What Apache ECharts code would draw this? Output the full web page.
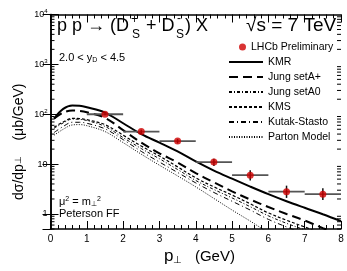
<!DOCTYPE html>
<html><head><meta charset="utf-8">
<script src="https://cdn.jsdelivr.net/npm/echarts@6/dist/echarts.min.js"></script>
<style>html,body{margin:0;padding:0;background:#fff}#c{width:347px;height:271px}</style>
</head><body><div id="c"></div>
<script>
// ---- data ----
const ptGrid = [0.1, 0.35, 0.6, 0.8, 1.0, 1.5, 2.0, 2.5, 3.0, 3.5, 4.0, 4.5, 5.0, 5.5, 6.0, 6.5, 7.0, 7.5, 8.0];
const kmr      = [82, 128, 150, 148, 138, 108, 66, 40, 27, 18, 11.3, 7.4, 5.1, 3.55, 2.5, 1.8, 1.33, 0.99, 0.72];
const jungAp   = [82, 108, 119, 117, 110, 85, 48, 27, 16.5, 10.8, 6.6, 4.3, 2.85, 1.95, 1.38, 1.0, 0.74, 0.52, 0.38];
const jungA0   = [52, 67, 80, 79, 75, 57, 34, 20.5, 12.8, 7.8, 4.7, 3.1, 2.1, 1.4, 0.92, 0.65, 0.48, 0.35, 0.26];
const kms      = [55, 70, 83, 82, 78, 62, 38, 23, 14.5, 8.8, 5.3, 3.5, 2.4, 1.6, 1.05, 0.75, 0.55, 0.4, 0.3];
const kutak    = [43, 57, 69, 69, 66, 51, 31, 18, 11, 6.8, 4.2, 2.7, 1.8, 1.2, 0.78, 0.55, 0.4, 0.29, 0.21];
const parton   = [38, 50, 61, 62, 59, 45, 27, 15.8, 9.5, 5.8, 3.5, 2.05, 1.2, 0.72, 0.42, 0.25, 0.15, 0.09, 0.055];

const lhcbX    = [1.5, 2.5, 3.5, 4.5, 5.5, 6.5, 7.5];
const lhcbY    = [100, 45, 29, 11, 6.0, 2.8, 2.5];
const lhcbErrUp  = [5, 4, 3, 1.8, 1.5, 0.9, 0.8];
const lhcbErrDn  = [5, 4, 3, 1.8, 1.3, 0.7, 0.6];
const binHalf  = [0.5, 0.5, 0.5, 0.5, 0.5, 0.5, 0.5];

const models = [
  {name: 'KMR', data: kmr, width: 2, type: 'solid'},
  {name: 'Jung setA+', data: jungAp, width: 2, type: [9, 5]},
  {name: 'Jung setA0', data: jungA0, width: 1, type: [3, 2, 1, 2]},
  {name: 'KMS', data: kms, width: 1.2, type: [3, 2]},
  {name: 'Kutak-Stasto', data: kutak, width: 1, type: [5, 3, 1, 3]},
  {name: 'Parton Model', data: parton, width: 1, type: [1, 1.5]}
];

// minor log ticks
const yMinor = [];
[0.1, 1, 10, 100, 1000].forEach(d => { for (let k = 2; k <= 9; k++) { const v = k * d; if (v >= 0.5 && v < 10000) yMinor.push(v); } });

const FONT = 'Liberation Sans, Helvetica, Arial, sans-serif';
const chart = echarts.init(document.getElementById('c'), null, {renderer: 'canvas'});

function yLabel(v) {
  if (Math.abs(v - 1) < 1e-9) return '1';
  if (Math.abs(v - 10) < 1e-9) return '10';
  const e = Math.round(Math.log10(v));
  return '{b|10}{s|' + e + '}';
}

const series = models.map(m => ({
  name: m.name, type: 'line', xAxisIndex: 0, yAxisIndex: 0,
  data: ptGrid.map((x, i) => [x, m.data[i]]),
  showSymbol: false, symbol: 'none', smooth: 0.35, clip: true,
  lineStyle: {color: '#000', width: m.width, type: m.type},
  itemStyle: {color: '#000'}, z: 3
}));

series.push({
  name: 'errbars', type: 'custom', xAxisIndex: 0, yAxisIndex: 0, z: 4,
  data: lhcbX.map((x, i) => [x, lhcbY[i], x - binHalf[i], x + binHalf[i], lhcbY[i] - lhcbErrDn[i], lhcbY[i] + lhcbErrUp[i]]),
  renderItem: function (params, api) {
    const c = api.coord([api.value(0), api.value(1)]);
    const l = api.coord([api.value(2), api.value(1)]);
    const r = api.coord([api.value(3), api.value(1)]);
    const lo = api.coord([api.value(0), api.value(4)]);
    const hi = api.coord([api.value(0), api.value(5)]);
    return {type: 'group', children: [
      {type: 'line', shape: {x1: l[0], y1: c[1], x2: r[0], y2: c[1]}, style: {stroke: '#555', lineWidth: 1.8}},
      {type: 'line', shape: {x1: c[0], y1: lo[1], x2: c[0], y2: hi[1]}, style: {stroke: '#111', lineWidth: 1.5}}
    ]};
  },
  silent: true
});

series.push({
  name: 'LHCb Preliminary', type: 'scatter', xAxisIndex: 0, yAxisIndex: 0, z: 5,
  data: lhcbX.map((x, i) => [x, lhcbY[i]]),
  symbol: 'circle', symbolSize: 7, itemStyle: {color: '#d00000'}
});

series.push({
  name: 'minorTicks', type: 'custom', xAxisIndex: 0, yAxisIndex: 0, z: 6, silent: true,
  data: yMinor.map(v => [0, v]),
  renderItem: function (params, api) {
    const a = api.coord([0, api.value(1)]);
    const b = api.coord([8, api.value(1)]);
    return {type: 'group', children: [
      {type: 'line', shape: {x1: a[0], y1: a[1], x2: a[0] + 4, y2: a[1]}, style: {stroke: '#000', lineWidth: 1}},
      {type: 'line', shape: {x1: b[0] - 4, y1: b[1], x2: b[0], y2: b[1]}, style: {stroke: '#000', lineWidth: 1}}
    ]};
  }
});

const axisLineStyle = {show: true, lineStyle: {color: '#000', width: 1.5}};

const option = {
  animation: false,
  backgroundColor: '#fff',
  textStyle: {fontFamily: FONT},
  grid: {left: 50.5, right: 6, top: 14.5, bottom: 42, show: false},
  xAxis: [
    {type: 'value', min: 0, max: 8, interval: 1, position: 'bottom',
     axisLine: axisLineStyle,
     axisTick: {show: true, inside: true, length: 8, lineStyle: {color: '#000', width: 1}},
     minorTick: {show: true, splitNumber: 5, length: 4, lineStyle: {color: '#000', width: 1}},
     axisLabel: {show: true, color: '#000', fontSize: 10, margin: 5, fontFamily: FONT},
     splitLine: {show: false}},
    {type: 'value', min: 0, max: 8, interval: 1, position: 'top',
     axisLine: axisLineStyle,
     axisTick: {show: true, inside: true, length: 8, lineStyle: {color: '#000', width: 1}},
     minorTick: {show: true, splitNumber: 5, length: 4, lineStyle: {color: '#000', width: 1}},
     axisLabel: {show: false}, splitLine: {show: false}}
  ],
  yAxis: [
    {type: 'log', logBase: 10, min: 0.5, max: 10000, position: 'left',
     axisLine: axisLineStyle,
     axisTick: {show: true, inside: true, length: 8, lineStyle: {color: '#000', width: 1}},
     axisLabel: {show: true, showMinLabel: false, color: '#000', fontSize: 9, margin: 3, fontFamily: FONT,
       formatter: yLabel,
       rich: {b: {fontSize: 9, fontFamily: FONT, color: '#000'}, s: {fontSize: 6, fontFamily: FONT, color: '#000', verticalAlign: 'bottom', padding: [0, 0, 6, 0]}}},
     splitLine: {show: false}},
    {type: 'log', logBase: 10, min: 0.5, max: 10000, position: 'right',
     axisLine: axisLineStyle,
     axisTick: {show: true, inside: true, length: 8, lineStyle: {color: '#000', width: 1}},
     axisLabel: {show: false}, splitLine: {show: false}}
  ],
  legend: [
    {data: ['LHCb Preliminary'], orient: 'vertical', left: 239, top: 41.5, padding: 0, itemWidth: 7, itemHeight: 7,
     icon: 'circle', textStyle: {fontSize: 10.5, color: '#000', fontFamily: FONT, lineHeight: 10}, selectedMode: false},
    {data: models.map(m => m.name), orient: 'vertical', left: 228, top: 56.5, padding: 0, itemWidth: 34, itemHeight: 10, itemGap: 4,
     itemStyle: {opacity: 0},
     textStyle: {fontSize: 10.5, color: '#000', fontFamily: FONT, lineHeight: 10}, selectedMode: false}
  ],
  graphic: [
    {type: 'text', left: 57, top: 17, style: {text: 'p p → (D', font: '18px ' + FONT, fill: '#000'}},
    {type: 'text', left: 131, top: 14, style: {text: '+', font: '12px ' + FONT, fill: '#000'}},
    {type: 'text', left: 132, top: 29, style: {text: 'S', font: '12px ' + FONT, fill: '#000'}},
    {type: 'text', left: 146, top: 17, style: {text: '+ D', font: '18px ' + FONT, fill: '#000'}},
    {type: 'text', left: 177, top: 13, style: {text: '-', font: '12px ' + FONT, fill: '#000'}},
    {type: 'text', left: 176, top: 29, style: {text: 'S', font: '12px ' + FONT, fill: '#000'}},
    {type: 'text', left: 185, top: 17, style: {text: ') X', font: '18px ' + FONT, fill: '#000'}},
    {type: 'text', left: 246, top: 16, style: {text: '√s = 7 TeV', font: '19px ' + FONT, fill: '#000'}},
    {type: 'text', left: 59, top: 52, style: {rich: {a: {font: '11px ' + FONT, fill: '#000'}, s: {font: '7px ' + FONT, fill: '#000', padding: [6, 0, 0, 0]}}, text: '{a|2.0 < y}{s|D}{a| < 4.5}'}},
    {type: 'text', left: 59, top: 196, style: {rich: {a: {font: '11px ' + FONT, fill: '#000'}, p: {font: '7px ' + FONT, fill: '#000', padding: [0, 0, 5, 0]}, s: {font: '7px ' + FONT, fill: '#000', padding: [5, 0, 0, 0]}}, text: '{a|μ}{p|2}{a| = m}{s|⊥}{p|2}'}},
    {type: 'text', left: 59, top: 208, style: {text: 'Peterson FF', font: '11px ' + FONT, fill: '#000'}},
    {type: 'text', left: 164, top: 248, style: {rich: {a: {font: '17px ' + FONT, fill: '#000'}, s: {font: '10px ' + FONT, fill: '#000', padding: [8, 0, 0, 0]}, g: {font: '15px ' + FONT, fill: '#000'}}, text: '{a|p}{s|⊥}{g|   (GeV)}'}},
    {type: 'text', x: 12, y: 200, rotation: Math.PI / 2, style: {rich: {a: {font: '14px ' + FONT, fill: '#000'}, s: {font: '9px ' + FONT, fill: '#000'}}, text: '{a|dσ/dp}{s|⊥}{a|    (μb/GeV)}', textVerticalAlign: 'top'}}
  ],
  series: series
};
chart.setOption(option);
</script>
</body></html>
